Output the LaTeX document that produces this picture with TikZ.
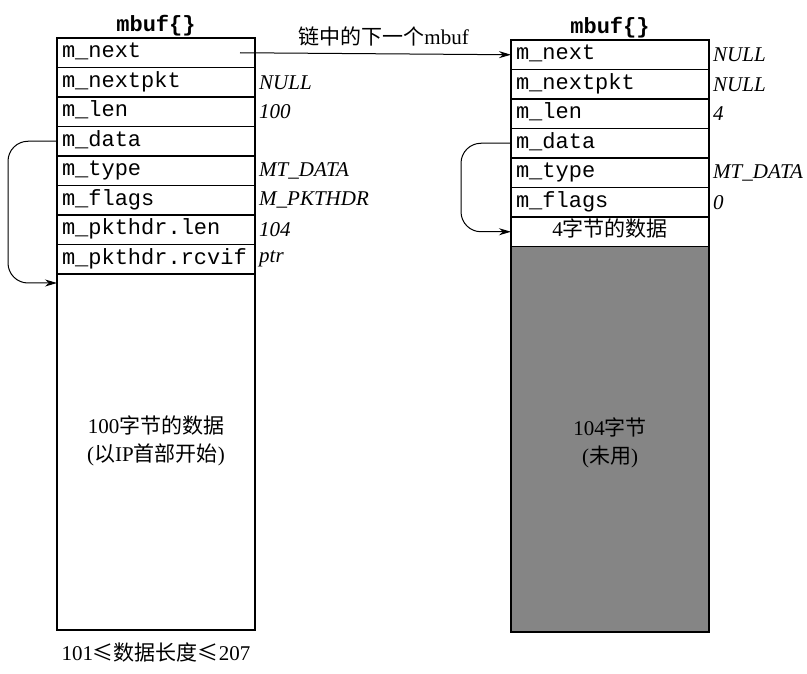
\documentclass[tikz,border=0pt]{standalone}
\usepackage{fontspec}
\setmainfont{Liberation Serif}
\setmonofont{Liberation Mono}
\newfontfamily\cjk{Noto Sans CJK SC}
\usetikzlibrary{arrows.meta,positioning}

\begin{document}
\begin{tikzpicture}[x=1pt,y=-1pt,
	field/.style={draw, line width=1.2pt, rectangle, outer sep=0pt, inner xsep=5pt, inner ysep=0pt,
		text width=188pt, align=left, minimum height=29.5pt, text height=15pt, text depth=5pt,
		font=\fontsize{22}{24}\selectfont\ttfamily},
	val/.style={inner sep=0pt, font=\fontsize{21}{24}\selectfont\itshape},
	title/.style={inner sep=0pt, font=\fontsize{22}{24}\selectfont\ttfamily\bfseries},
	body/.style={align=center, font=\fontsize{21}{28}\selectfont},
	link/.style={-{Stealth[length=12pt,width=7pt]}, line width=1pt}]
	\useasboundingbox (0,0) rectangle (807,674);
	% first mbuf
	\node[field, anchor=north west] (lnext) at (57,38) {m\_next};
	\node[field, below=0pt of lnext] (lnextpkt) {m\_nextpkt};
	\node[field, below=0pt of lnextpkt] (llen) {m\_len};
	\node[field, below=0pt of llen] (ldata) {m\_data};
	\node[field, below=0pt of ldata] (ltype) {m\_type};
	\node[field, below=0pt of ltype] (lflags) {m\_flags};
	\node[field, below=0pt of lflags] (lpktlen) {m\_pkthdr.len};
	\node[field, below=0pt of lpktlen] (lrcvif) {m\_pkthdr.rcvif};
	\node[draw, line width=1.2pt, outer sep=0pt, minimum width=198pt, minimum height=356pt, below=0pt of lrcvif] (lbody) {};
	\node[title, above=2pt of lnext] (ltitle) {mbuf\{\}};
	\node[val, right=4pt of lnextpkt] (lnextpktval) {NULL};
	\node[val, right=4pt of llen] (llenval) {100};
	\node[val, right=4pt of ltype] (ltypeval) {MT\_DATA};
	\node[val, right=4pt of lflags] (lflagsval) {M\_PKTHDR};
	\node[val, right=4pt of lpktlen] (lpktlenval) {104};
	\node[val, right=4pt of lrcvif] (lrcvifval) {ptr};
	\node[body] (ltext) at ([yshift=11pt]lbody.center) {100{\cjk 字节的数据}\\({\cjk 以}IP{\cjk 首部开始})};
	\node[body, below=9pt of lbody] (lrange) {101{\cjk ≤数据长度≤}207};
	\coordinate (lptr) at ([yshift=-9pt]lbody.north west);
	% second mbuf
	\node[field, anchor=north west] (rnext) at (511,40) {m\_next};
	\node[field, below=0pt of rnext] (rnextpkt) {m\_nextpkt};
	\node[field, below=0pt of rnextpkt] (rlen) {m\_len};
	\node[field, below=0pt of rlen] (rdata) {m\_data};
	\node[field, below=0pt of rdata] (rtype) {m\_type};
	\node[field, below=0pt of rtype] (rflags) {m\_flags};
	\node[field, align=center, font=\fontsize{21}{24}\selectfont, below=0pt of rflags] (rbytes) {4{\cjk 字节的数据}};
	\node[draw, line width=1.2pt, outer sep=0pt, fill=black!48, minimum width=198pt, minimum height=385.5pt, below=0pt of rbytes] (rbody) {};
	\node[title, above=2pt of rnext] (rtitle) {mbuf\{\}};
	\node[val, right=4pt of rnext] (rnextval) {NULL};
	\node[val, right=4pt of rnextpkt] (rnextpktval) {NULL};
	\node[val, right=4pt of rlen] (rlenval) {4};
	\node[val, right=4pt of rtype] (rtypeval) {MT\_DATA};
	\node[val, right=4pt of rflags] (rflagsval) {0};
	\node[body] (rtext) at ([yshift=-4pt]rbody.center) {104{\cjk 字节}\\({\cjk 未用})};
	% pointers
	\draw[link] ([xshift=-15pt]lnext.east) -- (rnext.west)
		node[pos=0.53, above, inner sep=7pt, font=\fontsize{21}{24}\selectfont] (nextlabel) {{\cjk 链中的下一个}mbuf};
	\draw[link, rounded corners=20pt] (ldata.west) -- ++(-49,0) |- (lptr);
	\draw[link, rounded corners=20pt] (rdata.west) -- ++(-50,0) |- (rbytes.west);
\end{tikzpicture}
\end{document}
